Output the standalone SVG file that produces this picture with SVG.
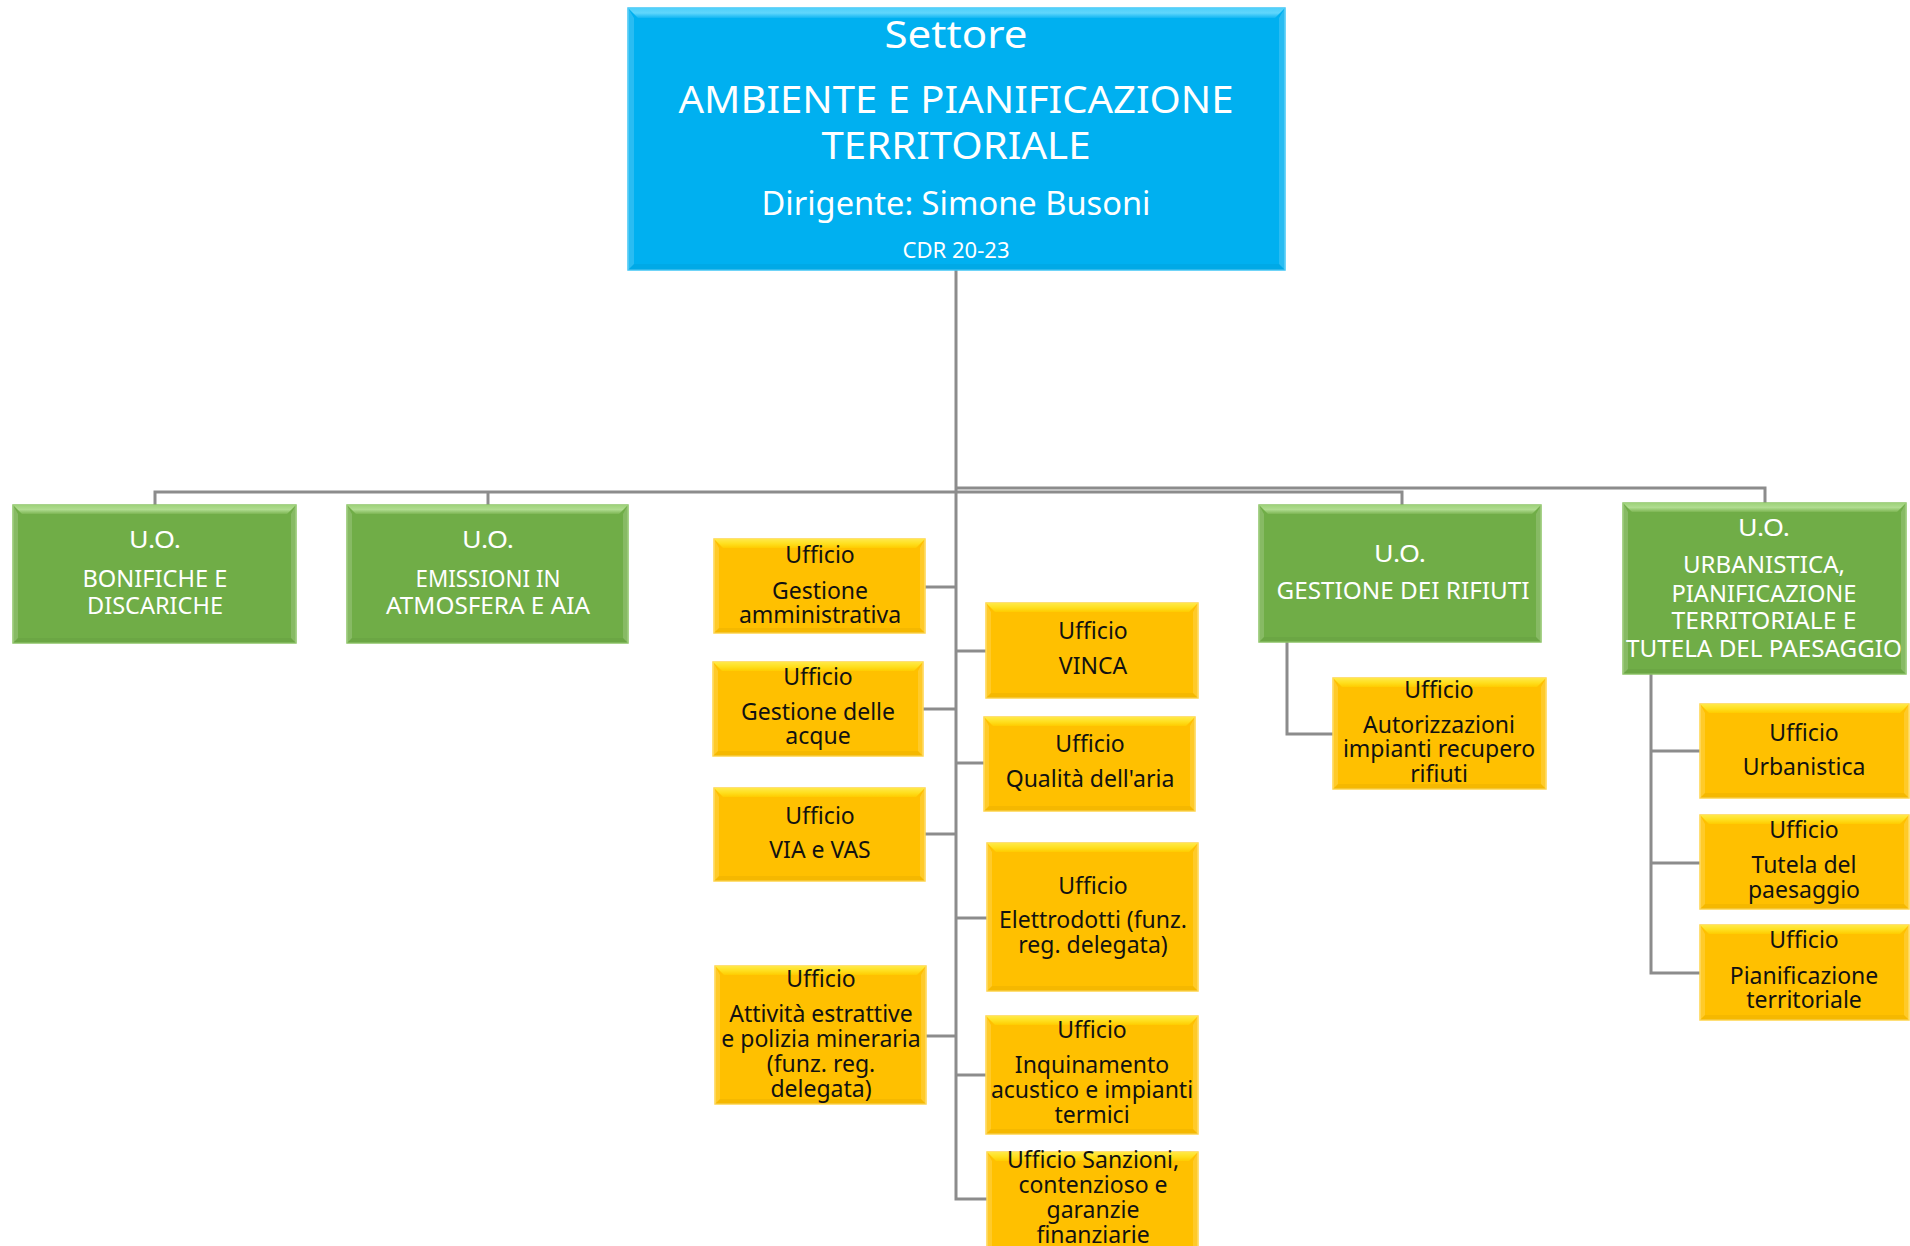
<svg xmlns="http://www.w3.org/2000/svg" width="1910" height="1246" viewBox="0 0 1910 1246">
<defs>
<linearGradient id="ty" x1="0" y1="0" x2="0" y2="1"><stop offset="0" stop-color="#FFE94A"/><stop offset="0.5" stop-color="#FFE020"/><stop offset="1" stop-color="#FFCC00"/></linearGradient>
<linearGradient id="tg" x1="0" y1="0" x2="0" y2="1"><stop offset="0" stop-color="#9ED27A"/><stop offset="0.5" stop-color="#B0DC90"/><stop offset="1" stop-color="#7DB653"/></linearGradient>
<linearGradient id="tb" x1="0" y1="0" x2="0" y2="1"><stop offset="0" stop-color="#4FD0FA"/><stop offset="0.5" stop-color="#60D6FC"/><stop offset="1" stop-color="#12B6F2"/></linearGradient>
</defs>
<style>
.y rect{fill:#FFC000;stroke:#FFD54A;stroke-width:1.5}
.g rect{fill:#70AD47;stroke:#8CC466;stroke-width:1.5}
.b rect{fill:#00B0F0;stroke:#40C6F6;stroke-width:1.5}
.y .bt{fill:url(#ty)}
.g .bt{fill:url(#tg)}
.b .bt{fill:url(#tb)}
.bs{fill:#FFFFFF;fill-opacity:0.16}
.bb{fill:#000000;fill-opacity:0.04}
text{font-family:"Noto Sans","Liberation Sans",sans-serif;text-anchor:middle}
.w{fill:#FFFFFF;font-size:23.5px}
.d{fill:#111111;font-size:23px}
.h1{font-size:39px}
.h2{font-size:32px}
.h3{font-size:22px}
.conn path{fill:none;stroke:#8C8C8C;stroke-width:3}
</style>

<g id="connectors" class="conn">
<path d="M956 270 V1199 H987"/>
<path d="M155 505 V492 H1402 V505"/>
<path d="M488 492 V505"/>
<path d="M956 488 H1765 V503"/>
<path d="M925 587 H956"/>
<path d="M923 709 H956"/>
<path d="M925 834 H956"/>
<path d="M926 1036 H956"/>
<path d="M956 651 H986"/>
<path d="M956 763 H984"/>
<path d="M956 918 H987"/>
<path d="M956 1075 H986"/>
<path d="M1287 642 V734 H1333"/>
<path d="M1651 674 V973 H1700"/>
<path d="M1651 751 H1700"/>
<path d="M1651 863 H1700"/>
</g>

<g id="settore" class="b">
<rect x="628" y="8" width="657" height="262"/>
<path class="bt" d="M628 8 h657 l-10 10 h-637 z"/>
<path class="bs" d="M1285 8 v262 l-6 -6 v-246 z M628 8 l6 10 v246 l-6 6 z"/>
<path class="bb" d="M628 270 h657 l-6 -6 h-645 z"/>
<text class="w h1" x="956" y="48" textLength="143" lengthAdjust="spacingAndGlyphs">Settore</text>
<text class="w h1" x="956" y="113" textLength="555" lengthAdjust="spacingAndGlyphs">AMBIENTE E PIANIFICAZIONE</text>
<text class="w h1" x="956" y="159" textLength="269" lengthAdjust="spacingAndGlyphs">TERRITORIALE</text>
<text class="w h2" x="956" y="215" textLength="389" lengthAdjust="spacingAndGlyphs">Dirigente: Simone Busoni</text>
<text class="w h3" x="956" y="258" textLength="107" lengthAdjust="spacingAndGlyphs">CDR 20-23</text>
</g>

<g id="uo-bonifiche" class="g">
<rect x="13" y="505" width="283" height="138"/>
<path class="bt" d="M13 505 h283 l-9 9 h-265 z"/>
<path class="bs" d="M296 505 v138 l-5 -5 v-124 z M13 505 l5 9 v124 l-5 5 z"/>
<path class="bb" d="M13 643 h283 l-5 -5 h-273 z"/>
<text class="w" x="155" y="548" textLength="52" lengthAdjust="spacingAndGlyphs">U.O.</text>
<text class="w" x="155" y="587" textLength="145" lengthAdjust="spacingAndGlyphs">BONIFICHE E</text>
<text class="w" x="155" y="614" textLength="136" lengthAdjust="spacingAndGlyphs">DISCARICHE</text>
</g>

<g id="uo-emissioni" class="g">
<rect x="347" y="505" width="281" height="138"/>
<path class="bt" d="M347 505 h281 l-9 9 h-263 z"/>
<path class="bs" d="M628 505 v138 l-5 -5 v-124 z M347 505 l5 9 v124 l-5 5 z"/>
<path class="bb" d="M347 643 h281 l-5 -5 h-271 z"/>
<text class="w" x="488" y="548" textLength="52" lengthAdjust="spacingAndGlyphs">U.O.</text>
<text class="w" x="488" y="587" textLength="145" lengthAdjust="spacingAndGlyphs">EMISSIONI IN</text>
<text class="w" x="488" y="614" textLength="204" lengthAdjust="spacingAndGlyphs">ATMOSFERA E AIA</text>
</g>

<g id="uo-rifiuti" class="g">
<rect x="1259" y="505" width="282" height="137"/>
<path class="bt" d="M1259 505 h282 l-9 9 h-264 z"/>
<path class="bs" d="M1541 505 v137 l-5 -5 v-123 z M1259 505 l5 9 v123 l-5 5 z"/>
<path class="bb" d="M1259 642 h282 l-5 -5 h-272 z"/>
<text class="w" x="1400" y="562" textLength="52" lengthAdjust="spacingAndGlyphs">U.O.</text>
<text class="w" x="1403" y="599" textLength="253" lengthAdjust="spacingAndGlyphs">GESTIONE DEI RIFIUTI</text>
</g>

<g id="uo-urbanistica" class="g">
<rect x="1623" y="503" width="283" height="171"/>
<path class="bt" d="M1623 503 h283 l-9 9 h-265 z"/>
<path class="bs" d="M1906 503 v171 l-5 -5 v-157 z M1623 503 l5 9 v157 l-5 5 z"/>
<path class="bb" d="M1623 674 h283 l-5 -5 h-273 z"/>
<text class="w" x="1764" y="536" textLength="52" lengthAdjust="spacingAndGlyphs">U.O.</text>
<text class="w" x="1764" y="573" textLength="162" lengthAdjust="spacingAndGlyphs">URBANISTICA,</text>
<text class="w" x="1764" y="602" textLength="185" lengthAdjust="spacingAndGlyphs">PIANIFICAZIONE</text>
<text class="w" x="1764" y="629" textLength="185" lengthAdjust="spacingAndGlyphs">TERRITORIALE E</text>
<text class="w" x="1764" y="657" textLength="276" lengthAdjust="spacingAndGlyphs">TUTELA DEL PAESAGGIO</text>
</g>

<g id="uff-gestione-amministrativa" class="y">
<rect x="714" y="539" width="211" height="94"/>
<path class="bt" d="M714 539 h211 l-9 9 h-193 z"/>
<path class="bs" d="M925 539 v94 l-5 -5 v-80 z M714 539 l5 9 v80 l-5 5 z"/>
<path class="bb" d="M714 633 h211 l-5 -5 h-201 z"/>
<text class="d" x="820" y="563">Ufficio</text>
<text class="d" x="820" y="599">Gestione</text>
<text class="d" x="820" y="623">amministrativa</text>
</g>

<g id="uff-gestione-acque" class="y">
<rect x="713" y="662" width="210" height="94"/>
<path class="bt" d="M713 662 h210 l-9 9 h-192 z"/>
<path class="bs" d="M923 662 v94 l-5 -5 v-80 z M713 662 l5 9 v80 l-5 5 z"/>
<path class="bb" d="M713 756 h210 l-5 -5 h-200 z"/>
<text class="d" x="818" y="685">Ufficio</text>
<text class="d" x="818" y="720">Gestione delle</text>
<text class="d" x="818" y="744">acque</text>
</g>

<g id="uff-via-vas" class="y">
<rect x="714" y="788" width="211" height="93"/>
<path class="bt" d="M714 788 h211 l-9 9 h-193 z"/>
<path class="bs" d="M925 788 v93 l-5 -5 v-79 z M714 788 l5 9 v79 l-5 5 z"/>
<path class="bb" d="M714 881 h211 l-5 -5 h-201 z"/>
<text class="d" x="820" y="824">Ufficio</text>
<text class="d" x="820" y="858">VIA e VAS</text>
</g>

<g id="uff-attivita-estrattive" class="y">
<rect x="715" y="966" width="211" height="138"/>
<path class="bt" d="M715 966 h211 l-9 9 h-193 z"/>
<path class="bs" d="M926 966 v138 l-5 -5 v-124 z M715 966 l5 9 v124 l-5 5 z"/>
<path class="bb" d="M715 1104 h211 l-5 -5 h-201 z"/>
<text class="d" x="821" y="987">Ufficio</text>
<text class="d" x="821" y="1022">Attività estrattive</text>
<text class="d" x="821" y="1047">e polizia mineraria</text>
<text class="d" x="821" y="1072">(funz. reg.</text>
<text class="d" x="821" y="1097">delegata)</text>
</g>

<g id="uff-vinca" class="y">
<rect x="986" y="603" width="212" height="95"/>
<path class="bt" d="M986 603 h212 l-9 9 h-194 z"/>
<path class="bs" d="M1198 603 v95 l-5 -5 v-81 z M986 603 l5 9 v81 l-5 5 z"/>
<path class="bb" d="M986 698 h212 l-5 -5 h-202 z"/>
<text class="d" x="1093" y="639">Ufficio</text>
<text class="d" x="1093" y="674">VINCA</text>
</g>

<g id="uff-qualita-aria" class="y">
<rect x="984" y="717" width="211" height="94"/>
<path class="bt" d="M984 717 h211 l-9 9 h-193 z"/>
<path class="bs" d="M1195 717 v94 l-5 -5 v-80 z M984 717 l5 9 v80 l-5 5 z"/>
<path class="bb" d="M984 811 h211 l-5 -5 h-201 z"/>
<text class="d" x="1090" y="752">Ufficio</text>
<text class="d" x="1090" y="787">Qualità dell'aria</text>
</g>

<g id="uff-elettrodotti" class="y">
<rect x="987" y="843" width="211" height="148"/>
<path class="bt" d="M987 843 h211 l-9 9 h-193 z"/>
<path class="bs" d="M1198 843 v148 l-5 -5 v-134 z M987 843 l5 9 v134 l-5 5 z"/>
<path class="bb" d="M987 991 h211 l-5 -5 h-201 z"/>
<text class="d" x="1093" y="894">Ufficio</text>
<text class="d" x="1093" y="928">Elettrodotti (funz.</text>
<text class="d" x="1093" y="953">reg. delegata)</text>
</g>

<g id="uff-inquinamento-acustico" class="y">
<rect x="986" y="1016" width="212" height="118"/>
<path class="bt" d="M986 1016 h212 l-9 9 h-194 z"/>
<path class="bs" d="M1198 1016 v118 l-5 -5 v-104 z M986 1016 l5 9 v104 l-5 5 z"/>
<path class="bb" d="M986 1134 h212 l-5 -5 h-202 z"/>
<text class="d" x="1092" y="1038">Ufficio</text>
<text class="d" x="1092" y="1073">Inquinamento</text>
<text class="d" x="1092" y="1098">acustico e impianti</text>
<text class="d" x="1092" y="1123">termici</text>
</g>

<g id="uff-sanzioni" class="y">
<rect x="987" y="1152" width="211" height="110"/>
<path class="bt" d="M987 1152 h211 l-9 9 h-193 z"/>
<path class="bs" d="M1198 1152 v110 l-5 -5 v-96 z M987 1152 l5 9 v96 l-5 5 z"/>
<text class="d" x="1093" y="1168">Ufficio Sanzioni,</text>
<text class="d" x="1093" y="1193">contenzioso e</text>
<text class="d" x="1093" y="1218">garanzie</text>
<text class="d" x="1093" y="1243">finanziarie</text>
</g>

<g id="uff-autorizzazioni" class="y">
<rect x="1333" y="678" width="213" height="111"/>
<path class="bt" d="M1333 678 h213 l-9 9 h-195 z"/>
<path class="bs" d="M1546 678 v111 l-5 -5 v-97 z M1333 678 l5 9 v97 l-5 5 z"/>
<path class="bb" d="M1333 789 h213 l-5 -5 h-203 z"/>
<text class="d" x="1439" y="698">Ufficio</text>
<text class="d" x="1439" y="733">Autorizzazioni</text>
<text class="d" x="1439" y="757">impianti recupero</text>
<text class="d" x="1439" y="782">rifiuti</text>
</g>

<g id="uff-urbanistica" class="y">
<rect x="1700" y="704" width="209" height="94"/>
<path class="bt" d="M1700 704 h209 l-9 9 h-191 z"/>
<path class="bs" d="M1909 704 v94 l-5 -5 v-80 z M1700 704 l5 9 v80 l-5 5 z"/>
<path class="bb" d="M1700 798 h209 l-5 -5 h-199 z"/>
<text class="d" x="1804" y="741">Ufficio</text>
<text class="d" x="1804" y="775">Urbanistica</text>
</g>

<g id="uff-tutela-paesaggio" class="y">
<rect x="1700" y="815" width="209" height="94"/>
<path class="bt" d="M1700 815 h209 l-9 9 h-191 z"/>
<path class="bs" d="M1909 815 v94 l-5 -5 v-80 z M1700 815 l5 9 v80 l-5 5 z"/>
<path class="bb" d="M1700 909 h209 l-5 -5 h-199 z"/>
<text class="d" x="1804" y="838">Ufficio</text>
<text class="d" x="1804" y="873">Tutela del</text>
<text class="d" x="1804" y="898">paesaggio</text>
</g>

<g id="uff-pianificazione-territoriale" class="y">
<rect x="1700" y="925" width="209" height="95"/>
<path class="bt" d="M1700 925 h209 l-9 9 h-191 z"/>
<path class="bs" d="M1909 925 v95 l-5 -5 v-81 z M1700 925 l5 9 v81 l-5 5 z"/>
<path class="bb" d="M1700 1020 h209 l-5 -5 h-199 z"/>
<text class="d" x="1804" y="948">Ufficio</text>
<text class="d" x="1804" y="984">Pianificazione</text>
<text class="d" x="1804" y="1008">territoriale</text>
</g>
</svg>
